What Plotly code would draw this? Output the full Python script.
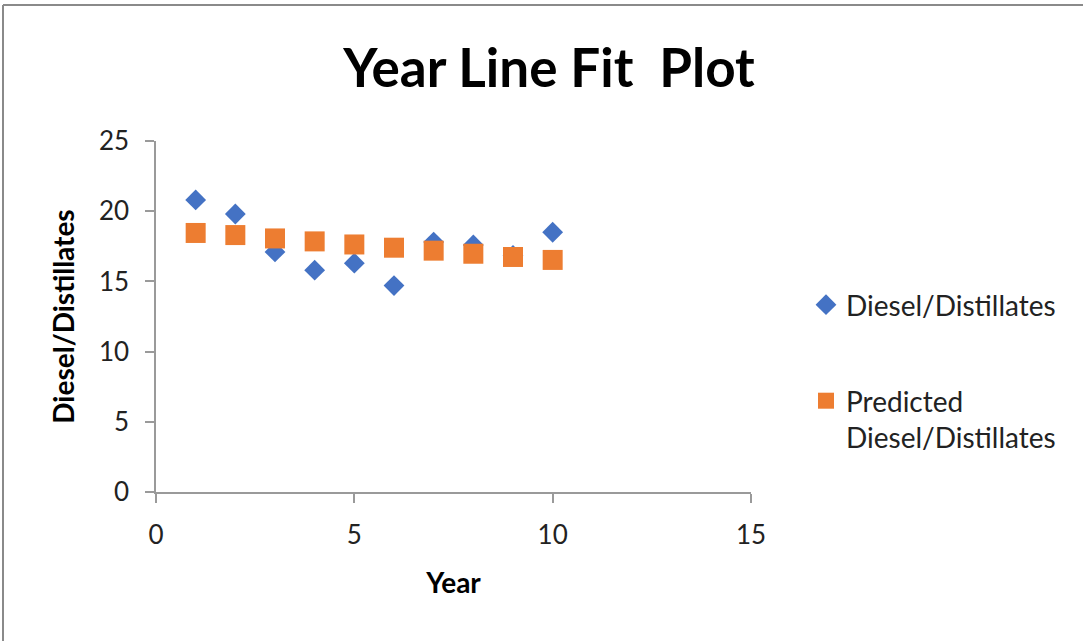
import plotly.graph_objects as go

years = [1, 2, 3, 4, 5, 6, 7, 8, 9, 10]
actual = [20.8, 19.8, 17.1, 15.8, 16.3, 14.7, 17.8, 17.6, 16.85, 18.5]
predicted = [18.45, 18.3, 18.06, 17.85, 17.63, 17.4, 17.19, 16.97, 16.74, 16.53]

W, H = 1083, 641
L, R, T, B = 156, 751, 141, 492

FONT = "Lato"

fig = go.Figure()
fig.add_trace(go.Scatter(
    x=years, y=actual, mode="markers", name="Diesel/Distillates",
    marker=dict(symbol="diamond", size=16, color="#4472C4"),
    legend="legend", showlegend=True,
))
fig.add_trace(go.Scatter(
    x=years, y=predicted, mode="markers", name="Predicted<br>Diesel/Distillates",
    marker=dict(symbol="square", size=20, color="#ED7D31"),
    legend="legend2", showlegend=True,
))

def px(xp):
    return (xp - L) / (R - L)

def py(yp):
    return (B - yp) / (B - T)

axis_common = dict(
    showgrid=False, zeroline=False, showline=True, linecolor="#9a9a9a", linewidth=1.5,
    ticks="outside", ticklen=9, tickcolor="#9a9a9a", tickwidth=1.5,
    tickfont=dict(family=FONT, size=26, color="#222222"),
)

legend_font = dict(family=FONT, size=28, color="#222222")

fig.update_layout(
    width=W, height=H,
    showlegend=True,
    margin=dict(l=L, r=W - R, t=T, b=H - B, autoexpand=False),
    paper_bgcolor="white", plot_bgcolor="white",
    title=dict(text="<b>Year Line Fit  Plot</b>", x=549 / W, xanchor="center",
               y=1 - 68 / H, yanchor="middle",
               font=dict(family=FONT, size=53, color="black")),
    xaxis=dict(range=[0, 15], dtick=5, tick0=0,
               title=dict(text="<b>Year</b>", font=dict(family=FONT, size=28, color="black"), standoff=24),
               ticklabelstandoff=10,
               **axis_common),
    yaxis=dict(range=[0, 25], dtick=5, tick0=0,
               title=dict(text="<b>Diesel/Distillates</b>", font=dict(family=FONT, size=28, color="black"), standoff=16),
               ticklabelstandoff=11,
               **axis_common),
    legend=dict(x=px(806), y=py(305), xanchor="left", yanchor="middle",
                font=legend_font, bgcolor="rgba(0,0,0,0)", itemwidth=30),
    legend2=dict(x=px(806), y=py(376), xanchor="left", yanchor="top", valign="top",
                 font=legend_font, bgcolor="rgba(0,0,0,0)", itemwidth=30),
    shapes=[
        dict(type="line", xref="paper", yref="paper", x0=px(3), x1=px(W + 5), y0=py(5), y1=py(5),
             line=dict(color="#8a8a8a", width=2)),
        dict(type="line", xref="paper", yref="paper", x0=px(3), x1=px(3), y0=py(5), y1=py(H + 5),
             line=dict(color="#8a8a8a", width=2)),
    ],
)

fig.write_html("out.html", config={"displayModeBar": False},
               post_script="document.body.style.margin='0';")
